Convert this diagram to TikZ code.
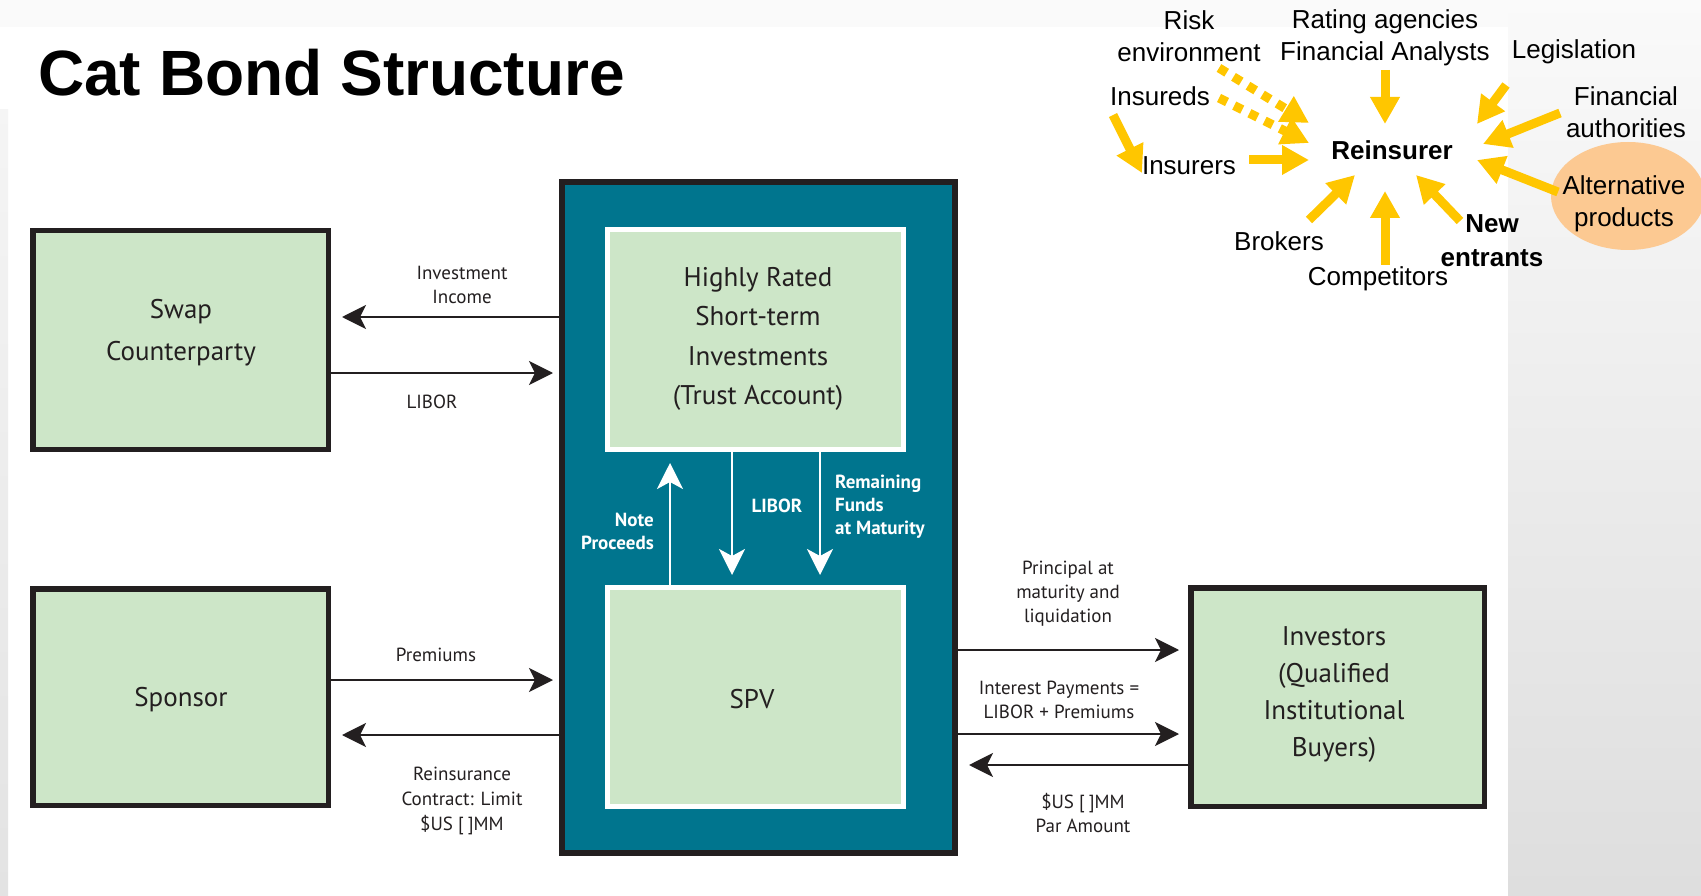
\documentclass[tikz,border=0pt]{standalone}
\usepackage{fontspec}
\setmainfont{PT Sans}
\newfontfamily\arialf{Liberation Sans}
\usetikzlibrary{arrows.meta,shapes.geometric}
\definecolor{teal1}{RGB}{0,117,142}
\definecolor{lgreen}{RGB}{205,230,200}
\definecolor{ink}{RGB}{35,31,32}
\definecolor{gold}{RGB}{255,198,0}
\definecolor{peach}{RGB}{252,201,146}
\begin{document}
\begin{tikzpicture}[x=1pt,y=-1pt,
  gbox/.style={draw=ink, line width=5.5pt, fill=lgreen, inner sep=0pt},
  ibox/.style={draw=white, line width=5pt, fill=lgreen, inner sep=0pt},
  btxt/.style={font=\fontsize{27}{39}\selectfont, text=ink, align=center, inner sep=0pt},
  lbl/.style={font=\fontsize{19}{24}\selectfont, text=ink, align=center, inner sep=0pt},
  wlbl/.style={font=\bfseries\fontsize{19}{23}\selectfont, text=white, inner sep=0pt},
  blk/.style={draw=ink, line width=2.2pt, -{Stealth[length=24pt,width=24pt,inset=6pt]}},
  wht/.style={draw=white, line width=2.5pt, -{Stealth[length=26pt,width=26pt,inset=7pt]}},
  ytxt/.style={font=\arialf\fontsize{26}{32}\selectfont, align=center, inner sep=0pt},
  yarr/.style={draw=gold, line width=9pt, -{Triangle[length=27pt,width=28pt]}},
  ydot/.style={yarr, dash pattern=on 9pt off 8pt}]
\useasboundingbox (0,0) rectangle (1701,896);
% background
\fill[white] (0,0) rectangle (1701,896);
\fill[black!2] (0,0) rectangle (1508,27);
\shade[top color=black!2, bottom color=black!13] (1508,0) rectangle (1701,896);
\shade[top color=black!4, bottom color=black!11] (0,110) rectangle (8,896);

% title
\node[anchor=base west, inner sep=0pt, font=\arialf\bfseries\fontsize{64}{70}\selectfont] (title) at (38,96) {Cat Bond Structure};

% boxes
\node[gbox, minimum width=295.5pt, minimum height=218.5pt] (swap) at (180.5,340) {};
\node[gbox, minimum width=295.5pt, minimum height=216.5pt] (sponsor) at (180.5,697) {};
\node[gbox, minimum width=293.5pt, minimum height=218.5pt] (investors) at (1337.5,697) {};
\node[draw=ink, line width=6pt, fill=teal1, minimum width=393pt, minimum height=671pt, inner sep=0pt] (teal) at (758.5,517.5) {};
\node[ibox, minimum width=296pt, minimum height=220pt] (trust) at (755.5,339.5) {};
\node[ibox, minimum width=296pt, minimum height=219pt] (spv) at (755.5,697) {};

% box texts
\node[btxt, font=\fontsize{27}{42}\selectfont] (swaptxt) at (181,333) {Swap\\Counterparty};
\node[btxt] (sponsortxt) at (181,700) {Sponsor};
\node[btxt, font=\fontsize{27}{39.5}\selectfont] (trusttxt) at (758,339) {Highly Rated\\Short-term\\Investments\\(Trust Account)};
\node[btxt] (spvtxt) at (752,699) {SPV};
\node[btxt, font=\fontsize{27}{37}\selectfont] (invtxt) at (1334,695) {Investors\\(Qualified\\Institutional\\Buyers)};

% white arrows inside SPV block
\draw[wht, shorten >=11pt] (spv.north -| 670,0) -- (trust.south -| 670,0);
\draw[wht, shorten >=10pt] (trust.south -| 732,0) -- (spv.north -| 732,0);
\draw[wht, shorten >=10pt] (trust.south -| 820,0) -- (spv.north -| 820,0);
\node[wlbl, anchor=east, align=right] (notelbl) at (654,531) {Note\\Proceeds};
\node[wlbl] (liborw) at (777,506) {LIBOR};
\node[wlbl, anchor=west, align=left] (remlbl) at (835,507) {Remaining\\Funds\\at Maturity};

% black arrows left
\draw[blk, shorten >=11pt] (teal.west |- 0,317) -- (swap.east |- 0,317);
\draw[blk, shorten >=6pt] (swap.east |- 0,373) -- (teal.west |- 0,373);
\draw[blk, shorten >=6pt] (sponsor.east |- 0,680) -- (teal.west |- 0,680);
\draw[blk, shorten >=11pt] (teal.west |- 0,735) -- (sponsor.east |- 0,735);
\node[lbl] (invinc) at (462,285) {Investment\\Income};
\node[lbl] (libor1) at (432,402) {LIBOR};
\node[lbl] (prem) at (436,655) {Premiums};
\node[lbl, font=\fontsize{19}{25}\selectfont] (reins) at (462,801) {Reinsurance\\Contract: Limit\\\$US [\hspace{4pt}]MM};

% black arrows right
\draw[blk, shorten >=9pt] (teal.east |- 0,650) -- (investors.west |- 0,650);
\draw[blk, shorten >=9pt] (teal.east |- 0,734) -- (investors.west |- 0,734);
\draw[blk, shorten >=11pt] (investors.west |- 0,765) -- (teal.east |- 0,765);
\node[lbl] (princ) at (1068,594) {Principal at\\maturity and\\liquidation};
\node[lbl] (intpay) at (1059,699.5) {Interest Payments =\\LIBOR + Premiums};
\node[lbl] (par) at (1083,813) {\$US [\hspace{4pt}]MM\\Par Amount};

% top-right cluster
\node[ellipse, fill=peach, minimum width=154pt, minimum height=108pt, inner sep=0pt] (altell) at (1628,196) {};
\node[ytxt] (risk) at (1189,36) {Risk\\environment};
\node[ytxt] (rating) at (1385,38) {Rating agencies\\Financial Analysts};
\node[ytxt] (legis) at (1574,52) {Legislation};
\node[ytxt] (insureds) at (1160,96) {Insureds};
\node[ytxt] (finauth) at (1626,112) {Financial\\authorities};
\node[ytxt, font=\arialf\bfseries\fontsize{26}{32}\selectfont] (reins2) at (1392,150) {Reinsurer};
\node[ytxt] (insurers) at (1189,166) {Insurers};
\node[ytxt] (altprod) at (1624,204) {Alternative\\products};
\node[ytxt] (brokers) at (1279,241) {Brokers};
\node[ytxt] (comp) at (1378,279) {Competitors};
\node[ytxt, font=\arialf\bfseries\fontsize{26}{34}\selectfont] (newent) at (1492,241) {New\\entrants};

\coordinate (r1s) at (1219,68);   \coordinate (r1t) at (1309,123);
\coordinate (r2s) at (1219,98);   \coordinate (r2t) at (1309,143);
\coordinate (r3s) at (1385,70);   \coordinate (r3t) at (1385,124);
\coordinate (r4s) at (1506,85);   \coordinate (r4t) at (1477,124);
\coordinate (r5s) at (1560,113);  \coordinate (r5t) at (1483,144);
\coordinate (r6s) at (1558,192);  \coordinate (r6t) at (1477,160);
\coordinate (r7s) at (1460,221);  \coordinate (r7t) at (1416,175);
\coordinate (r8s) at (1385,265);  \coordinate (r8t) at (1385,191);
\coordinate (r9s) at (1309,220);  \coordinate (r9t) at (1355,175);
\coordinate (r10s) at (1249,160); \coordinate (r10t) at (1309,160);
\coordinate (r11s) at (1113,115); \coordinate (r11t) at (1142,173);

\draw[ydot] (r1s) -- (r1t);
\draw[ydot] (r2s) -- (r2t);
\draw[yarr] (r3s) -- (r3t);
\draw[yarr] (r4s) -- (r4t);
\draw[yarr] (r5s) -- (r5t);
\draw[yarr] (r6s) -- (r6t);
\draw[yarr] (r7s) -- (r7t);
\draw[yarr] (r8s) -- (r8t);
\draw[yarr] (r9s) -- (r9t);
\draw[yarr] (r10s) -- (r10t);
\draw[yarr] (r11s) -- (r11t);
\end{tikzpicture}
\end{document}
